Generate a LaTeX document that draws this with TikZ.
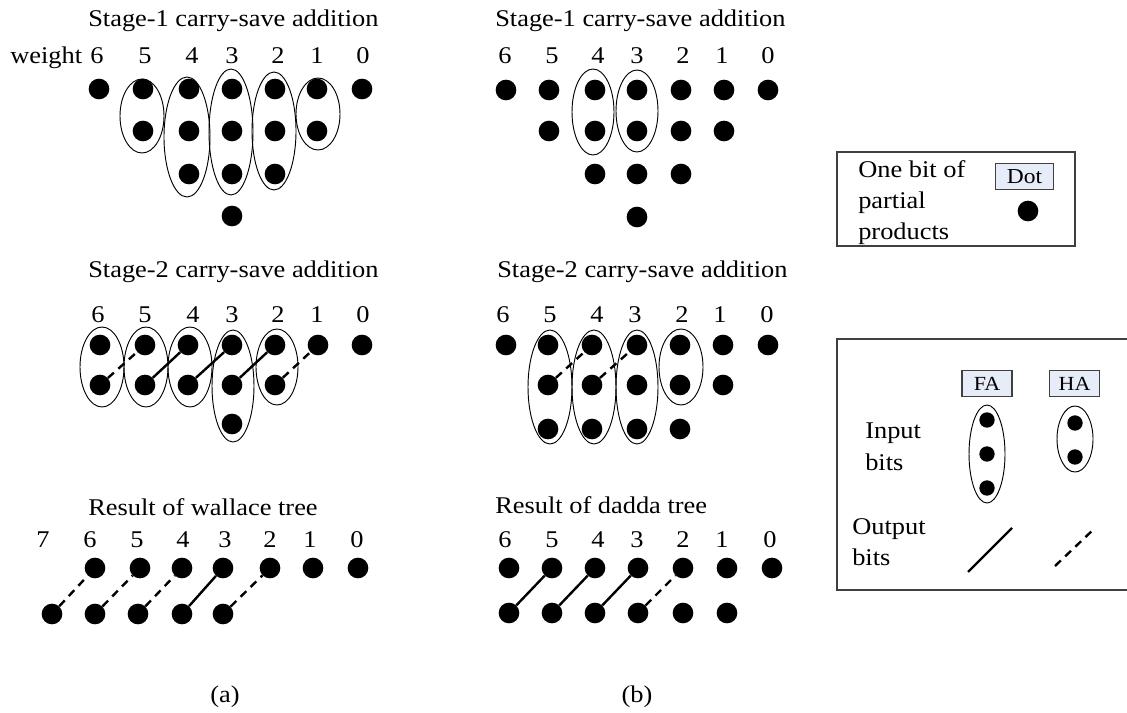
\documentclass[tikz,border=0pt]{standalone}
\usepackage{fontspec}
\setmainfont{Liberation Serif}[FakeStretch=1.1]
\usepackage{xcolor}
\usepackage{tikz}
\definecolor{keyfill}{RGB}{230,236,248}
\definecolor{framegray}{RGB}{64,64,64}

\begin{document}
\begin{tikzpicture}[x=0.75pt,y=-0.75pt,every node/.style={font=\fontsize{18}{23.5}\selectfont,inner sep=0pt},bit/.style={circle,fill=black,minimum size=15.5pt},sbit/.style={bit,minimum size=11.5pt},grp/.style={line width=0.7pt},fa/.style={line width=1.8pt},ha/.style={fa,dash pattern=on 6pt off 4.5pt},key/.style={draw=framegray,fill=keyfill,line width=0.8pt,font=\fontsize{15}{17}\selectfont},frame/.style={draw=framegray,line width=0.8pt}]
\useasboundingbox (0,0) rectangle (1127,713);

% (a) stage 1
\node[anchor=base west] (a1title) at (88,27) {Stage-1 carry-save addition};
\node[anchor=base west] (a1weight) at (10,64) {weight};
\node[anchor=base] (a1n6) at (97,64) {6};
\node[anchor=base] (a1n5) at (145,64) {5};
\node[anchor=base] (a1n4) at (192,64) {4};
\node[anchor=base] (a1n3) at (232,64) {3};
\node[anchor=base] (a1n2) at (278,64) {2};
\node[anchor=base] (a1n1) at (317,64) {1};
\node[anchor=base] (a1n0) at (363,64) {0};

\draw[grp] (142,116) ellipse [x radius=22,y radius=37];
\draw[grp] (187,137) ellipse [x radius=23,y radius=60];
\draw[grp] (231,132) ellipse [x radius=22,y radius=63];
\draw[grp] (274,131) ellipse [x radius=22,y radius=59];
\draw[grp] (318,114) ellipse [x radius=22,y radius=36];

\node[bit] (a1c6r1) at (99,89) {};
\node[bit] (a1c5r1) at (143,89) {};
\node[bit] (a1c4r1) at (189,89) {};
\node[bit] (a1c3r1) at (232,89) {};
\node[bit] (a1c2r1) at (275,89) {};
\node[bit] (a1c1r1) at (317,89) {};
\node[bit] (a1c0r1) at (362,89) {};
\node[bit] (a1c5r2) at (143,131) {};
\node[bit] (a1c4r2) at (189,131) {};
\node[bit] (a1c3r2) at (232,131) {};
\node[bit] (a1c2r2) at (275,131) {};
\node[bit] (a1c1r2) at (317,131) {};
\node[bit] (a1c4r3) at (189,174) {};
\node[bit] (a1c3r3) at (232,174) {};
\node[bit] (a1c2r3) at (275,174) {};
\node[bit] (a1c3r4) at (232,216) {};

% (a) stage 2
\node[anchor=base west] (a2title) at (88,277) {Stage-2 carry-save addition};
\node[anchor=base] (a2n6) at (98,322) {6};
\node[anchor=base] (a2n5) at (145,322) {5};
\node[anchor=base] (a2n4) at (193,322) {4};
\node[anchor=base] (a2n3) at (232,322) {3};
\node[anchor=base] (a2n2) at (278,322) {2};
\node[anchor=base] (a2n1) at (317,322) {1};
\node[anchor=base] (a2n0) at (363,322) {0};

\draw[grp] (102,367) ellipse [x radius=22,y radius=40];
\draw[grp] (146,367) ellipse [x radius=22,y radius=40];
\draw[grp] (190,367) ellipse [x radius=22,y radius=40];
\draw[grp] (233,386) ellipse [x radius=21,y radius=56];
\draw[grp] (277,367) ellipse [x radius=21,y radius=38];

\node[bit] (a2c6r1) at (100,345) {};
\node[bit] (a2c5r1) at (145,345) {};
\node[bit] (a2c4r1) at (188,345) {};
\node[bit] (a2c3r1) at (232,345) {};
\node[bit] (a2c2r1) at (275,345) {};
\node[bit] (a2c1r1) at (318,345) {};
\node[bit] (a2c0r1) at (362,345) {};
\node[bit] (a2c6r2) at (100,385) {};
\node[bit] (a2c5r2) at (145,385) {};
\node[bit] (a2c4r2) at (188,385) {};
\node[bit] (a2c3r2) at (232,385) {};
\node[bit] (a2c2r2) at (275,385) {};
\node[bit] (a2c3r3) at (232,424) {};

\draw[ha] (a2c6r2) -- (a2c5r1);
\draw[fa] (a2c5r2) -- (a2c4r1);
\draw[fa] (a2c4r2) -- (a2c3r1);
\draw[fa] (a2c3r2) -- (a2c2r1);
\draw[ha] (a2c2r2) -- (a2c1r1);

% (a) result
\node[anchor=base west] (a3title) at (88,515) {Result of wallace tree};
\node[anchor=base] (a3n7) at (43,547) {7};
\node[anchor=base] (a3n6) at (90,547) {6};
\node[anchor=base] (a3n5) at (137,547) {5};
\node[anchor=base] (a3n4) at (183,547) {4};
\node[anchor=base] (a3n3) at (225,547) {3};
\node[anchor=base] (a3n2) at (270,547) {2};
\node[anchor=base] (a3n1) at (310,547) {1};
\node[anchor=base] (a3n0) at (357,547) {0};

\node[bit] (a3c6r1) at (95,568) {};
\node[bit] (a3c5r1) at (140,568) {};
\node[bit] (a3c4r1) at (182,568) {};
\node[bit] (a3c3r1) at (223,568) {};
\node[bit] (a3c2r1) at (270,568) {};
\node[bit] (a3c1r1) at (313,568) {};
\node[bit] (a3c0r1) at (358,568) {};
\node[bit] (a3c7r2) at (52,614) {};
\node[bit] (a3c6r2) at (95,614) {};
\node[bit] (a3c5r2) at (138,614) {};
\node[bit] (a3c4r2) at (182,614) {};
\node[bit] (a3c3r2) at (223,614) {};

\draw[ha] (a3c7r2) -- (a3c6r1);
\draw[ha] (a3c6r2) -- (a3c5r1);
\draw[ha] (a3c5r2) -- (a3c4r1);
\draw[fa] (a3c4r2) -- (a3c3r1);
\draw[ha] (a3c3r2) -- (a3c2r1);

\node[anchor=base] (acap) at (225,702) {(a)};

% (b) stage 1
\node[anchor=base west] (b1title) at (495,27) {Stage-1 carry-save addition};
\node[anchor=base] (b1n6) at (505,64) {6};
\node[anchor=base] (b1n5) at (552,64) {5};
\node[anchor=base] (b1n4) at (598,64) {4};
\node[anchor=base] (b1n3) at (637,64) {3};
\node[anchor=base] (b1n2) at (683,64) {2};
\node[anchor=base] (b1n1) at (722,64) {1};
\node[anchor=base] (b1n0) at (768,64) {0};

\draw[grp] (593,112) ellipse [x radius=21,y radius=43];
\draw[grp] (637,111) ellipse [x radius=21,y radius=41];

\node[bit] (b1c6r1) at (506,90) {};
\node[bit] (b1c5r1) at (549,90) {};
\node[bit] (b1c4r1) at (595,90) {};
\node[bit] (b1c3r1) at (637,90) {};
\node[bit] (b1c2r1) at (681,90) {};
\node[bit] (b1c1r1) at (724,90) {};
\node[bit] (b1c0r1) at (768,90) {};
\node[bit] (b1c5r2) at (549,131) {};
\node[bit] (b1c4r2) at (595,131) {};
\node[bit] (b1c3r2) at (637,131) {};
\node[bit] (b1c2r2) at (681,131) {};
\node[bit] (b1c1r2) at (724,131) {};
\node[bit] (b1c4r3) at (595,174) {};
\node[bit] (b1c3r3) at (637,174) {};
\node[bit] (b1c2r3) at (681,174) {};
\node[bit] (b1c3r4) at (637,217) {};

% (b) stage 2
\node[anchor=base west] (b2title) at (497,277) {Stage-2 carry-save addition};
\node[anchor=base] (b2n6) at (503,322) {6};
\node[anchor=base] (b2n5) at (550,322) {5};
\node[anchor=base] (b2n4) at (597,322) {4};
\node[anchor=base] (b2n3) at (635,322) {3};
\node[anchor=base] (b2n2) at (682,322) {2};
\node[anchor=base] (b2n1) at (720,322) {1};
\node[anchor=base] (b2n0) at (767,322) {0};

\draw[grp] (550,387) ellipse [x radius=22,y radius=57];
\draw[grp] (594,387) ellipse [x radius=22,y radius=57];
\draw[grp] (637,387) ellipse [x radius=21,y radius=57];
\draw[grp] (681,367) ellipse [x radius=22,y radius=38];

\node[bit] (b2c6r1) at (506,345) {};
\node[bit] (b2c5r1) at (548,345) {};
\node[bit] (b2c4r1) at (592,345) {};
\node[bit] (b2c3r1) at (637,345) {};
\node[bit] (b2c2r1) at (680,345) {};
\node[bit] (b2c1r1) at (723,345) {};
\node[bit] (b2c0r1) at (768,345) {};
\node[bit] (b2c5r2) at (548,385) {};
\node[bit] (b2c4r2) at (592,385) {};
\node[bit] (b2c3r2) at (637,385) {};
\node[bit] (b2c2r2) at (680,385) {};
\node[bit] (b2c1r2) at (723,385) {};
\node[bit] (b2c5r3) at (548,429) {};
\node[bit] (b2c4r3) at (592,429) {};
\node[bit] (b2c3r3) at (637,429) {};
\node[bit] (b2c2r3) at (680,429) {};

\draw[ha] (b2c5r2) -- (b2c4r1);
\draw[ha] (b2c4r2) -- (b2c3r1);

% (b) result
\node[anchor=base west] (b3title) at (495,513) {Result of dadda tree};
\node[anchor=base] (b3n6) at (505,547) {6};
\node[anchor=base] (b3n5) at (552,547) {5};
\node[anchor=base] (b3n4) at (598,547) {4};
\node[anchor=base] (b3n3) at (637,547) {3};
\node[anchor=base] (b3n2) at (683,547) {2};
\node[anchor=base] (b3n1) at (722,547) {1};
\node[anchor=base] (b3n0) at (770,547) {0};

\node[bit] (b3c6r1) at (509,568) {};
\node[bit] (b3c5r1) at (552,568) {};
\node[bit] (b3c4r1) at (595,568) {};
\node[bit] (b3c3r1) at (638,568) {};
\node[bit] (b3c2r1) at (683,568) {};
\node[bit] (b3c1r1) at (727,568) {};
\node[bit] (b3c0r1) at (772,568) {};
\node[bit] (b3c6r2) at (509,613) {};
\node[bit] (b3c5r2) at (552,613) {};
\node[bit] (b3c4r2) at (595,613) {};
\node[bit] (b3c3r2) at (638,613) {};
\node[bit] (b3c2r2) at (683,613) {};
\node[bit] (b3c1r2) at (727,613) {};

\draw[fa] (b3c6r2) -- (b3c5r1);
\draw[fa] (b3c5r2) -- (b3c4r1);
\draw[fa] (b3c4r2) -- (b3c3r1);
\draw[ha] (b3c3r2) -- (b3c2r1);

\node[anchor=base] (bcap) at (637,702) {(b)};

% legend: dot
\draw[frame] (837,152) rectangle (1075,246);
\node[anchor=north west,align=left] (dottext) at (858,160) {One bit of\\partial\\products};
\node[key,minimum width=43pt,minimum height=19pt,font=\fontsize{16}{18}\selectfont] (dotkey) at (1024.5,176.5) {Dot};
\node[bit] (dotbit) at (1028,211) {};

% legend: adders
\draw[frame] (837,339) rectangle (1140,590);
\node[key,minimum width=37.5pt,minimum height=20pt] (fakey) at (987,383.5) {FA};
\node[key,minimum width=38pt,minimum height=20pt] (hakey) at (1074.5,383.5) {HA};
\draw[grp] (987,454) ellipse [x radius=18,y radius=49];
\draw[grp] (1075,439) ellipse [x radius=18,y radius=33];
\node[sbit] (fabit1) at (987,420) {};
\node[sbit] (fabit2) at (987,454) {};
\node[sbit] (fabit3) at (987,488) {};
\node[sbit] (habit1) at (1075,423) {};
\node[sbit] (habit2) at (1075,457) {};
\node[anchor=north west,align=left] (intext) at (865,423) {Input\\bits};
\node[anchor=north west,align=left] (outtext) at (852,518) {Output\\bits};
\coordinate (fastart) at (968,572);
\coordinate (faend) at (1012,528);
\coordinate (hastart) at (1055,566);
\coordinate (haend) at (1095,528);
\draw[fa] (fastart) -- (faend);
\draw[ha] (hastart) -- (haend);

\end{tikzpicture}
\end{document}
